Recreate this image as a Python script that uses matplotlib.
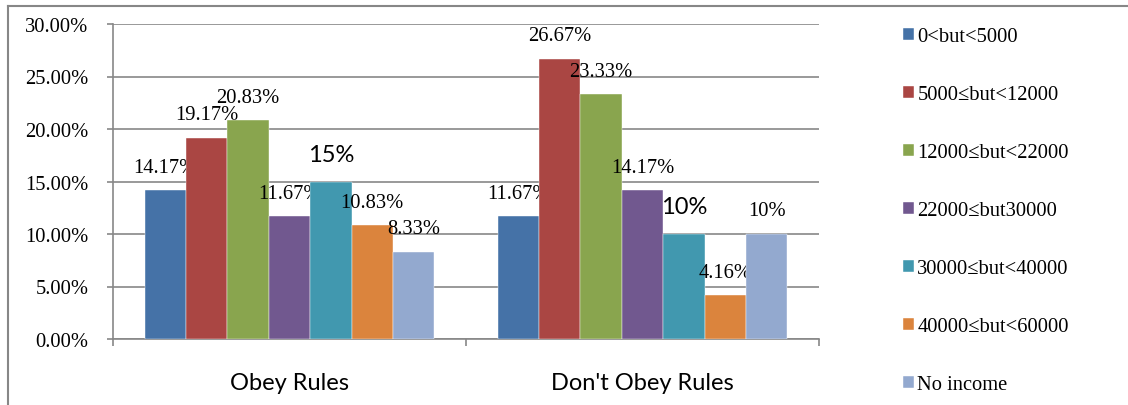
import matplotlib
matplotlib.use("Agg")
import matplotlib.pyplot as plt
from matplotlib.lines import Line2D
import numpy as np

categories = ["Obey Rules", "Don't Obey Rules"]
series_names = ["0<but<5000", "5000\u2264but<12000", "12000\u2264but<22000",
                "22000\u2264but30000", "30000\u2264but<40000", "40000\u2264but<60000",
                "No income"]
obey = [14.17, 19.17, 20.83, 11.67, 15, 10.83, 8.33]
dont_obey = [11.67, 26.67, 23.33, 14.17, 10, 4.16, 10]
obey_labels = ["14.17%", "19.17%", "20.83%", "11.67%", "15%", "10.83%", "8.33%"]
dont_labels = ["11.67%", "26.67%", "23.33%", "14.17%", "10%", "4.16%", "10%"]
# the two teal labels are drawn in the sans font, bigger
sans_label = [[False, False, False, False, True, False, False],
              [False, False, False, False, True, False, False]]
colors = ["#4572A7", "#AA4643", "#89A54E", "#71588F", "#4198AF", "#DB843D", "#93A9CF"]

serif = ["Liberation Serif", "DejaVu Serif"]
sans = ["Lato", "DejaVu Sans"]
grid_col = "#878787"

fig = plt.figure(figsize=(11.28, 4.06), dpi=100)
ax = fig.add_axes([113/1128, 66/406, 706/1128, 315/406])

x = np.arange(len(categories))
w = 0.1173
values = np.array([obey, dont_obey])
labels = [obey_labels, dont_labels]

for i, name in enumerate(series_names):
    pos = x + (i - 3) * w
    ax.bar(pos, values[:, i], width=w, color=colors[i], label=name,
           edgecolor="white", linewidth=0.3, zorder=3)
    for j in range(len(categories)):
        if sans_label[j][i]:
            ax.annotate(labels[j][i], (pos[j], values[j, i]), xytext=(0, 27),
                        textcoords="offset pixels", ha="center", va="center",
                        fontsize=17, family=sans)
        else:
            ax.annotate(labels[j][i], (pos[j], values[j, i]), xytext=(0, 23),
                        textcoords="offset pixels", ha="center", va="center",
                        fontsize=14.8, family=serif)

ax.set_xlim(-0.5, 1.5)
ax.set_ylim(0, 30)
ax.set_yticks(np.arange(0, 31, 5))
ax.set_yticklabels([f"{v:.2f}%" for v in np.arange(0, 31, 5)], family=serif, fontsize=14.8)
ax.yaxis.grid(True, color=grid_col, linewidth=1.2, zorder=0)

ax.set_xticks(x)
ax.set_xticklabels(categories, family=sans, fontsize=17)
ax.set_xticks([-0.5, 0.5, 1.5], minor=True)
ax.tick_params(axis="x", which="major", length=0, pad=24)
ax.tick_params(axis="x", which="minor", length=5, width=1.2, color=grid_col, direction="out")
ax.tick_params(axis="y", length=4.3, width=1.2, color=grid_col, pad=13.5)

for s in ["top", "right"]:
    ax.spines[s].set_visible(False)
for s in ["left", "bottom"]:
    ax.spines[s].set_color(grid_col)
    ax.spines[s].set_linewidth(1.2)

leg = ax.legend(loc="upper left", bbox_to_anchor=(903/1128, 1 - 28/406),
                bbox_transform=fig.transFigure, frameon=False,
                prop={"family": serif, "size": 14.8},
                handlelength=0.55, handleheight=0.55, handletextpad=0.15,
                labelspacing=1.9, borderpad=0, borderaxespad=0)

# outer frame (only left and top edges visible)
fig.add_artist(Line2D([8/1128, 8/1128], [0, 1 - 7/406], transform=fig.transFigure,
                      color=grid_col, linewidth=1.5))
fig.add_artist(Line2D([8/1128, 1], [1 - 7/406, 1 - 7/406], transform=fig.transFigure,
                      color=grid_col, linewidth=1.5))

fig.savefig("out.png", dpi=100)
